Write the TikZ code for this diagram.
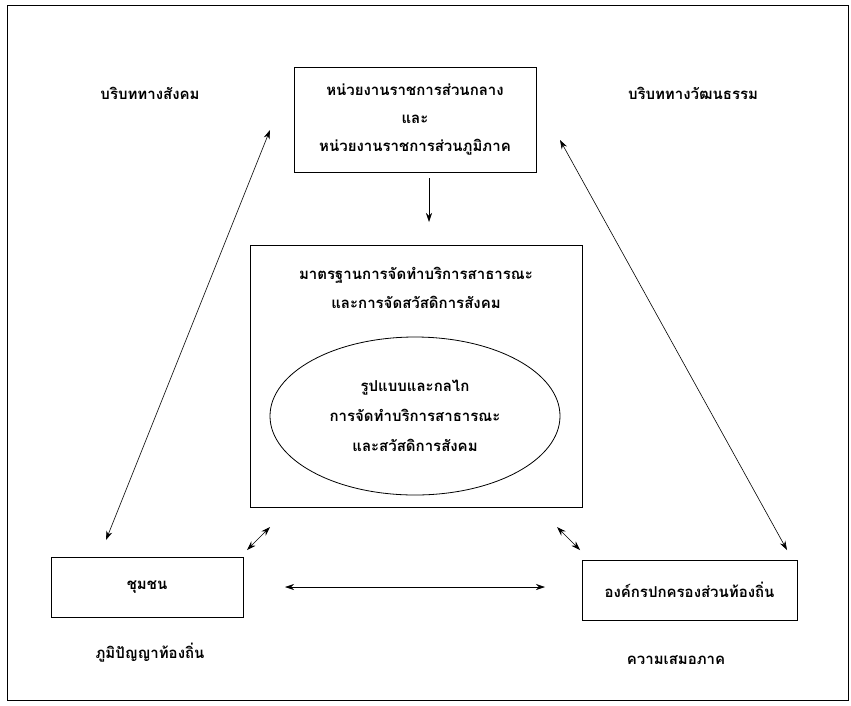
\documentclass[tikz,border=0pt]{standalone}
\usepackage{fontspec}
\newfontfamily\thaifont[Script=Thai]{Loma}
\usetikzlibrary{shapes.geometric, arrows, arrows.meta}
\tikzstyle{block} = [rectangle, draw=black, thick, text centered, align=center, font=\thaifont\bfseries\fontsize{15}{28}\selectfont]
\tikzstyle{oval} = [ellipse, draw=black, thick, text centered, align=center, font=\thaifont\bfseries\fontsize{15}{30}\selectfont]
\tikzstyle{caption} = [text centered, align=center, font=\thaifont\bfseries\fontsize{15}{29}\selectfont]
\tikzstyle{arrow} = [semithick,<->,>={Stealth[length=9pt,width=6pt]}]
\tikzstyle{darrow} = [semithick,->,>={Stealth[length=9pt,width=6pt]}]

\begin{document}
\begin{tikzpicture}[x=1pt, y=-1pt]
\useasboundingbox (0,0) rectangle (851,705);

\node (frame) at (427.5,352.5) [draw=black, thick, minimum width=841pt, minimum height=695pt] {};

\node (central) at (415,119.5) [block, minimum width=242pt, minimum height=105pt] {หน่วยงานราชการส่วนกลาง\\และ\\หน่วยงานราชการส่วนภูมิภาค};
\node (standard) at (416,376) [block, minimum width=332pt, minimum height=262pt] {};
\node (standardtext) at (416,287.5) [caption] {มาตรฐานการจัดทำบริการสาธารณะ\\และการจัดสวัสดิการสังคม};
\node (model) at (415,416) [oval, minimum width=290pt, minimum height=158pt] {รูปแบบและกลไก\\การจัดทำบริการสาธารณะ\\และสวัสดิการสังคม};
\node (community) at (147,587) [block, minimum width=192pt, minimum height=60pt] {ชุมชน};
\node (local) at (689.5,590) [block, minimum width=215pt, minimum height=60pt] {องค์กรปกครองส่วนท้องถิ่น};

\node (social) at (150,93) [caption] {บริบททางสังคม};
\node (culture) at (693,93) [caption] {บริบททางวัฒนธรรม};
\node (wisdom) at (150,653) [caption] {ภูมิปัญญาท้องถิ่น};
\node (equality) at (676,660) [caption] {ความเสมอภาค};

\coordinate (c1) at (429,178);
\coordinate (c2) at (429,222);
\coordinate (l1) at (270,130);
\coordinate (l2) at (106,540);
\coordinate (r1) at (560,140);
\coordinate (r2) at (787,550);
\coordinate (sl1) at (270,527);
\coordinate (sl2) at (247,550);
\coordinate (sr1) at (557,527);
\coordinate (sr2) at (580,550);
\coordinate (h1) at (285,587);
\coordinate (h2) at (545,587);

\draw [darrow] (c1) -- (c2);
\draw [arrow] (l1) -- (l2);
\draw [arrow] (r1) -- (r2);
\draw [arrow] (sl1) -- (sl2);
\draw [arrow] (sr1) -- (sr2);
\draw [arrow] (h1) -- (h2);

\end{tikzpicture}
\end{document}
